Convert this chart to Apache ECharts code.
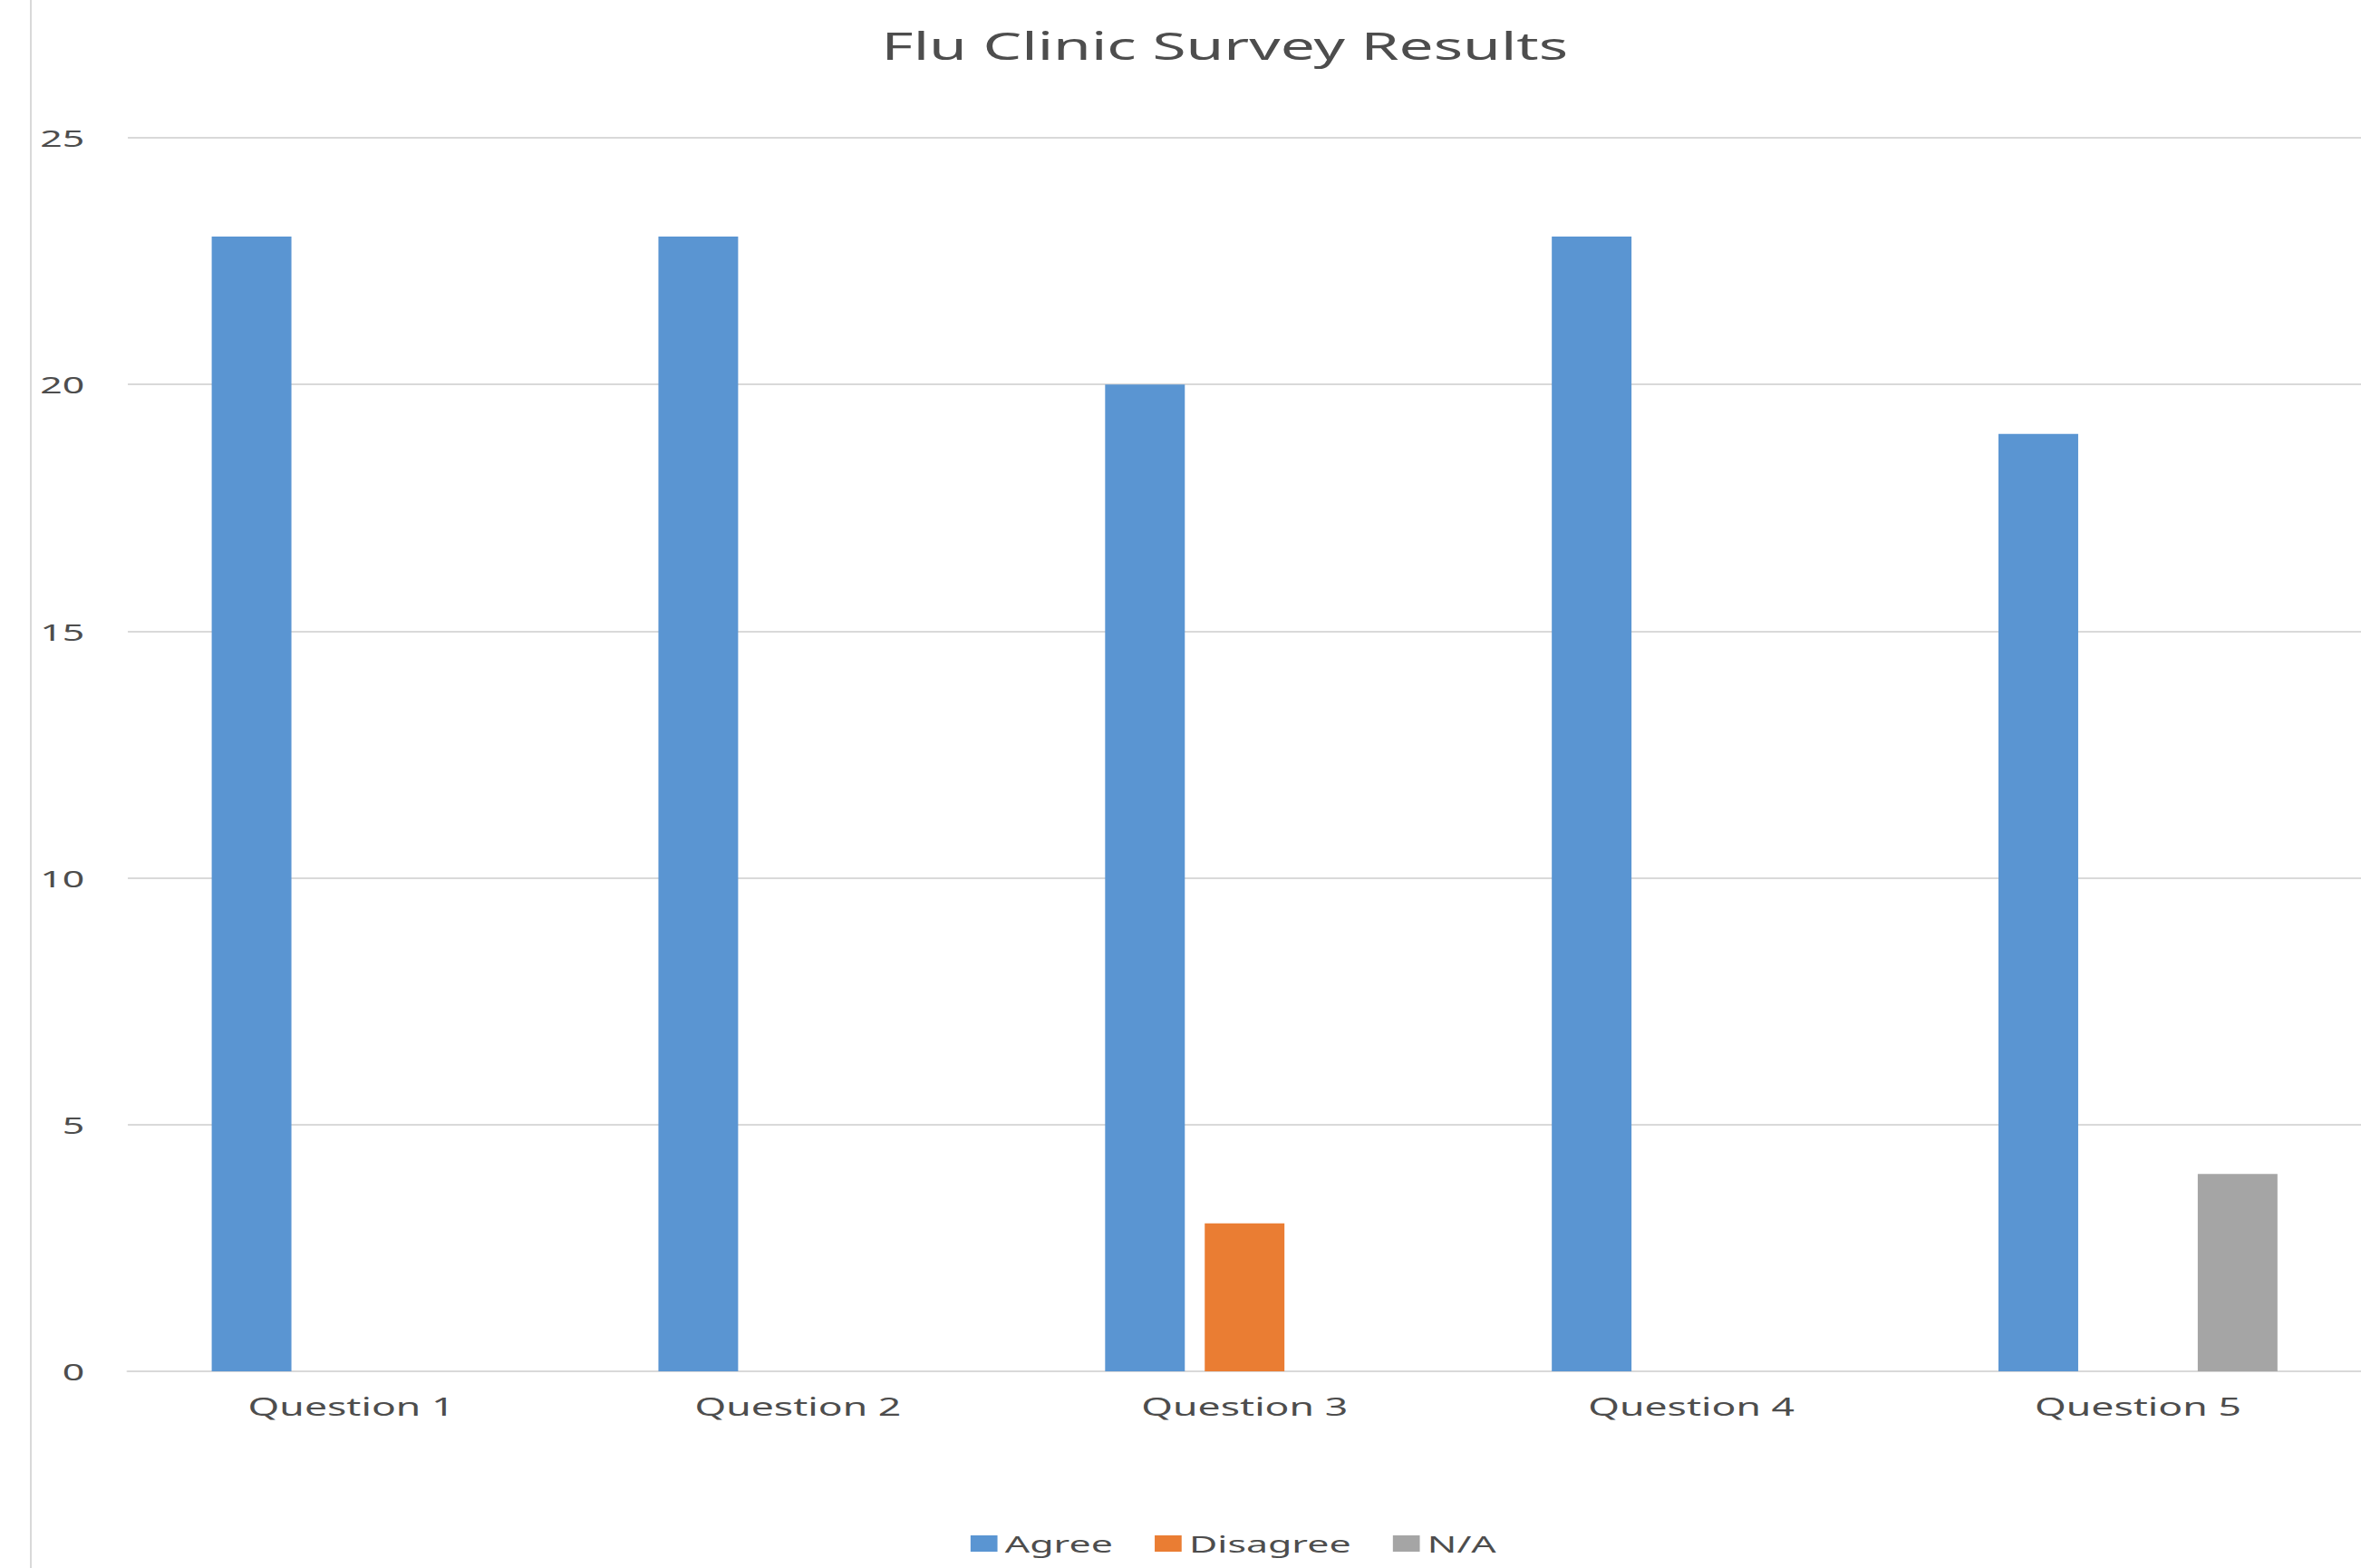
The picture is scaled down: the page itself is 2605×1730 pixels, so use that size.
<!DOCTYPE html>
<html>
<head>
<meta charset="utf-8">
<title>Flu Clinic Survey Results</title>
<script src="https://cdn.jsdelivr.net/npm/echarts@6/dist/echarts.min.js"></script>
<style>
  html, body { margin: 0; padding: 0; background: #ffffff; }
  #frame { position: absolute; left: 0; top: 0; width: 2605px; height: 1730px; background: #ffffff; overflow: hidden; }
  #edge { position: absolute; left: 33px; top: 0; width: 0; height: 1730px; border-left: 2px solid #d9d9d9; }
  /* the chart is laid out narrow and widened horizontally */
  #chart { position: absolute; left: 0; top: 0; width: 1579px; height: 1730px; transform: scaleX(1.65); transform-origin: 0 0; }
</style>
</head>
<body>
<div id="frame">
  <div id="edge"></div>
  <div id="chart"></div>
</div>
<script>
// Survey answers per question
const categories = ['Question 1', 'Question 2', 'Question 3', 'Question 4', 'Question 5'];
const agree = [23, 23, 20, 23, 19];
const disagree = [0, 0, 3, 0, 0];
const notApplicable = [0, 0, 0, 0, 4];
const yTicks = { min: 0, max: 25, interval: 5 };

const textColor = '#4d4d4d';
const gridColor = '#d9d9d9';
const font = '"Noto Sans", "Open Sans", sans-serif';

const chart = echarts.init(document.getElementById('chart'), null, { renderer: 'svg' });

chart.setOption({
  animation: false,
  backgroundColor: 'transparent',
  title: {
    text: 'Flu Clinic Survey Results',
    left: 814,
    top: 24,
    textAlign: 'center',
    textStyle: { color: textColor, fontFamily: font, fontSize: 41, fontWeight: 'normal' }
  },
  legend: {
    left: 644,
    top: 1685,
    itemWidth: 18,
    itemHeight: 18,
    itemGap: 28,
    icon: 'rect',
    textStyle: { color: textColor, fontFamily: font, fontSize: 26 },
    data: ['Agree', 'Disagree', 'N/A']
  },
  grid: { left: 85.5, top: 152, width: 1495, height: 1361, containLabel: false },
  xAxis: {
    type: 'category',
    data: categories,
    axisLine: { lineStyle: { color: gridColor, width: 2 } },
    axisTick: { show: false },
    axisLabel: { color: textColor, fontFamily: font, fontSize: 27, margin: 25 },
    splitLine: { show: false }
  },
  yAxis: {
    type: 'value',
    min: yTicks.min,
    max: yTicks.max,
    interval: yTicks.interval,
    axisLine: { show: false },
    axisTick: { show: false },
    axisLabel: { color: textColor, fontFamily: font, fontSize: 26, margin: 29 },
    splitLine: { lineStyle: { color: gridColor, width: 2 } }
  },
  series: [
    { name: 'Agree', type: 'bar', data: agree, barWidth: 53.3, barGap: '25%', itemStyle: { color: '#5a95d2' } },
    { name: 'Disagree', type: 'bar', data: disagree, barWidth: 53.3, barGap: '25%', itemStyle: { color: '#ea7d33' } },
    { name: 'N/A', type: 'bar', data: notApplicable, barWidth: 53.3, barGap: '25%', itemStyle: { color: '#a5a5a5' } }
  ]
});
</script>
</body>
</html>
